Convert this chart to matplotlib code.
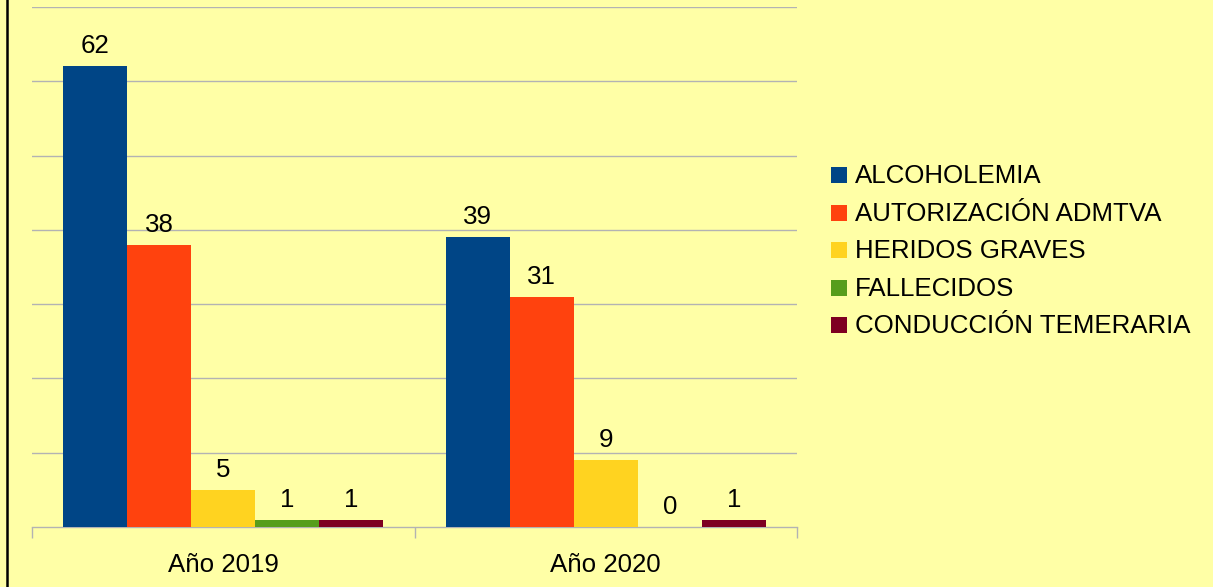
import matplotlib
matplotlib.use("Agg")
import matplotlib.pyplot as plt
from matplotlib.patches import Rectangle
from matplotlib.lines import Line2D
import numpy as np

plt.rcParams['font.family'] = ['Liberation Sans', 'DejaVu Sans']

categories = ["Año 2019", "Año 2020"]
series_names = ["ALCOHOLEMIA", "AUTORIZACIÓN ADMTVA", "HERIDOS GRAVES",
                "FALLECIDOS", "CONDUCCIÓN TEMERARIA"]
alcoholemia = [62, 39]
autorizacion = [38, 31]
heridos = [5, 9]
fallecidos = [1, 0]
conduccion = [1, 1]
series_values = [alcoholemia, autorizacion, heridos, fallecidos, conduccion]
colors = ["#004586", "#ff420e", "#ffd320", "#579d1c", "#7e0021"]

W, H = 1213, 587
bg = "#ffffa6"
fs = 18.6

fig = plt.figure(figsize=(W / 100, H / 100), dpi=100, facecolor=bg)
ax = fig.add_axes([32 / W, 1 - 527 / H, 765 / W, 520 / H], facecolor=bg)

x = np.arange(len(categories))
bw = 64 / 382.5
for i, (vals, c) in enumerate(zip(series_values, colors)):
    pos = x + (i - 2) * bw
    ax.bar(pos, vals, width=bw, color=c, zorder=3, linewidth=0)
    for p, v in zip(pos, vals):
        ax.annotate(str(v), (p, v), xytext=(0, 9.4), textcoords="offset points",
                    ha="center", va="baseline", fontsize=fs, color="black", zorder=4)

ax.set_xlim(-0.5, 1.5)
ax.set_ylim(0, 70)
ax.set_yticks(np.arange(10, 71, 10))
ax.yaxis.grid(True, color="#b3b3b3", linewidth=1.0, zorder=0)
ax.tick_params(axis="y", left=False, labelleft=False)
for s in ["left", "right", "top"]:
    ax.spines[s].set_visible(False)
ax.spines["bottom"].set_color("#b3b3b3")
ax.spines["bottom"].set_linewidth(1.0)
ax.spines["bottom"].set_zorder(2)

ax.set_xticks(x)
ax.set_xticklabels(categories, fontsize=fs)
ax.tick_params(axis="x", which="major", length=0, pad=18.5)
ax.set_xticks([-0.5, 0.5, 1.5], minor=True)
ax.tick_params(axis="x", which="minor", length=8, width=1.0, color="#b3b3b3")

# Legend drawn manually
ys = [175, 213, 250, 288, 325]
for name, c, yc in zip(series_names, colors, ys):
    fig.patches.append(Rectangle((831 / W, 1 - (yc + 8) / H), 16 / W, 16 / H,
                                 transform=fig.transFigure, facecolor=c,
                                 edgecolor="none"))
    fig.text(855 / W, 1 - (yc + 1) / H, name, fontsize=fs, va="center", ha="left")

# left border line
fig.add_artist(Line2D([6.5 / W, 6.5 / W], [0, 1], color="black", linewidth=1.8,
                      transform=fig.transFigure))

fig.savefig("out.png", dpi=100, facecolor=bg)
